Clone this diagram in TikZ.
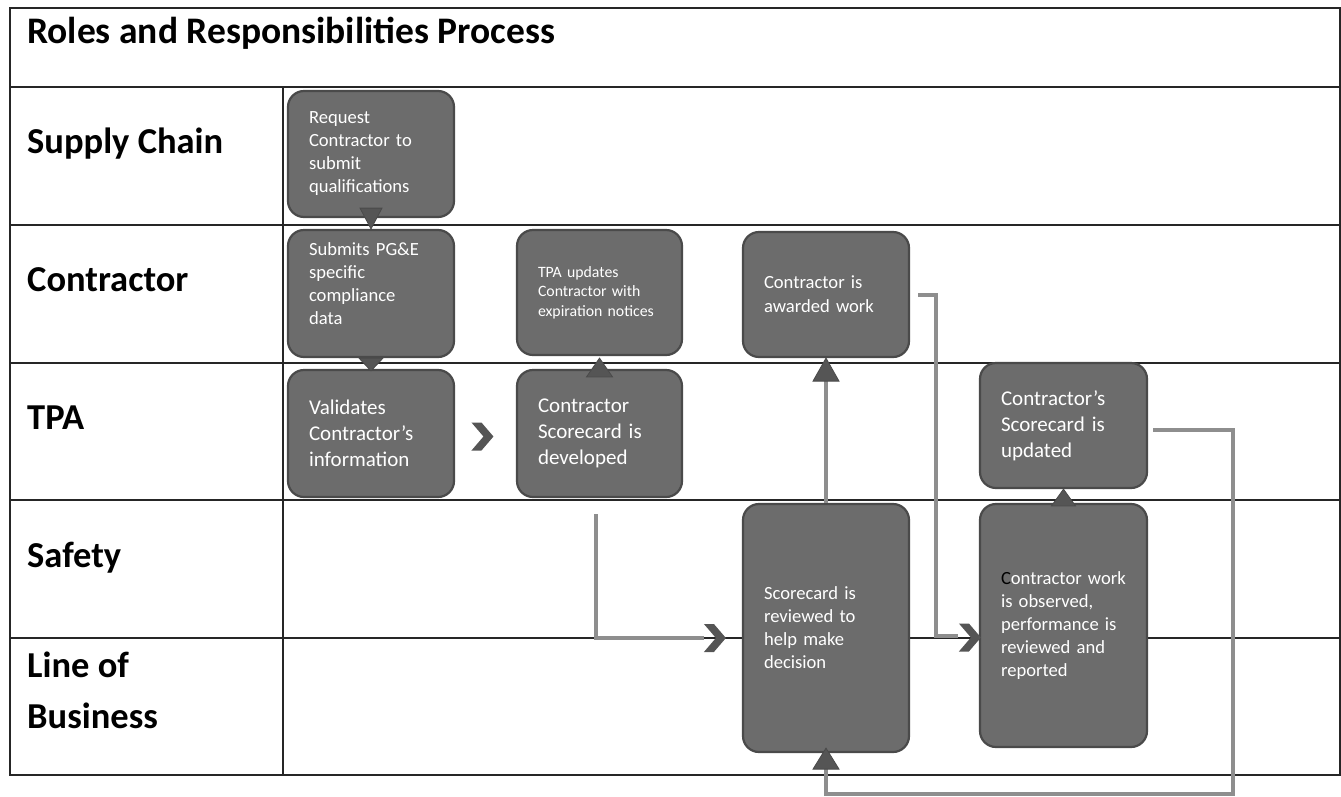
\documentclass[tikz,border=0pt]{standalone}
\usepackage{fontspec}
\setmainfont{Carlito}
\usetikzlibrary{calc}
\definecolor{boxfill}{HTML}{6C6C6C}
\definecolor{boxedge}{HTML}{4A4A4A}
\definecolor{conn}{HTML}{8E8E8E}
\definecolor{chevfill}{HTML}{555555}
\definecolor{grid}{HTML}{262626}
\tikzset{
  gridline/.style={draw=grid, line width=1.8pt},
  procbox/.style={draw=boxedge, line width=2.2pt, fill=boxfill, rounded corners=16pt,
    text=white, align=left, inner sep=0pt},
  fsmall/.style={font=\fontsize{15.8}{19.5}\selectfont},
  fmid/.style={font=\fontsize{18.6}{23}\selectfont},
  fbig/.style={font=\fontsize{21}{26}\selectfont},
  lanelab/.style={anchor=base west, font=\fontsize{36.5}{44}\selectfont\bfseries, inner sep=0pt},
  tri/.style={fill=chevfill, draw=boxedge, line width=0.8pt},
  conn/.style={draw=conn, line width=4pt},
  chevron/.pic={\fill[chevfill] (-11,-14) -- (-1,-14) -- (11,0) -- (-1,14) -- (-11,14) -- (1,0) -- cycle;}
}
\begin{document}
\begin{tikzpicture}[x=1pt,y=-1pt]
\useasboundingbox (0,0) rectangle (1341,796);
% table
\draw[gridline] (10,8) rectangle (1340,775);
\foreach \yy in {87,225,363,500,638} \draw[gridline] (10,\yy) -- (1340,\yy);
\draw[gridline] (283,87) -- (283,775);
% labels
\node[lanelab, font=\fontsize{37.5}{44}\selectfont\bfseries] (title) at (27,43) {Roles and Responsibilities Process};
\node[lanelab] (lsc) at (27,153) {Supply Chain};
\node[lanelab] (lco) at (27,291) {Contractor};
\node[lanelab] (ltp) at (27,429) {TPA};
\node[lanelab] (lsa) at (27,567) {Safety};
\node[lanelab] (llb1) at (27,677) {Line of};
\node[lanelab] (llb2) at (27,728) {Business};
% boxes
\node[procbox, fmid, minimum width=166pt, minimum height=126pt, text width=124pt] (req) at (371,154)
  {Request\\Contractor~to\\submit\\qualifications};
\node[procbox, fmid, minimum width=166pt, minimum height=127pt, text width=124pt] (sub) at (371,293.5)
  {Submits~PG\&E\\specific\\compliance\\data\vspace{20pt}};
\node[procbox, fbig, minimum width=166pt, minimum height=127pt, text width=124pt] (val) at (371,433.5)
  {Validates\\Contractor’s\\information};
\node[procbox, fsmall, minimum width=165pt, minimum height=125pt, text width=123pt] (upd) at (599.5,292.5)
  {TPA~updates\\Contractor~with\\expiration~notices};
\node[procbox, fbig, minimum width=165pt, minimum height=127pt, text width=123pt] (dev) at (599.5,433.5)
  {Contractor\\Scorecard~is\\developed};
\node[procbox, fmid, minimum width=166pt, minimum height=125pt, text width=124pt, font=\fontsize{18.6}{24}\selectfont] (awd) at (826,294.5)
  {Contractor~is\\awarded~work};
\node[procbox, fmid, minimum width=166pt, minimum height=248pt, text width=124pt] (rev) at (826,628)
  {Scorecard~is\\reviewed~to\\help~make\\decision};
\node[procbox, fbig, minimum width=167pt, minimum height=125pt, text width=125pt] (scu) at (1063.5,425.5)
  {Contractor’s\\Scorecard~is\\updated};
\node[procbox, fmid, minimum width=167pt, minimum height=243pt, text width=125pt] (obs) at (1063.5,625.5)
  {{\color{black}C}ontractor~work\\is~observed,\\performance~is\\reviewed~and\\reported};
% triangle pointers
\filldraw[tri] ($(req.south)+(-11,-10)$) -- ($(req.south)+(11,-10)$) -- (sub.north) -- cycle;
\filldraw[tri] ($(sub.south)+(-12,0)$) -- ($(sub.south)+(12,0)$) -- ($(val.north)+(0,2)$) -- cycle;
\filldraw[tri] ($(dev.north)+(-13,8)$) -- ($(dev.north)+(13,8)$) -- ($(upd.south)+(0,2)$) -- cycle;
\filldraw[tri] ($(obs.north)+(-12,3)$) -- ($(obs.north)+(12,3)$) -- (scu.south) -- cycle;
% connectors
\coordinate (c1s) at ($(dev.south)+(-4,16)$);
\coordinate (c1e) at ($(rev.west)+(-38,10)$);
\draw[conn] (c1s) |- (c1e);
\pic at ($(rev.west)+(-27,10)$) {chevron};
\draw[conn] (rev.north) -- ($(awd.south)+(0,22)$);
\filldraw[tri] ($(awd.south)+(-13,23)$) -- ($(awd.south)+(13,23)$) -- (awd.south) -- cycle;
\coordinate (c3s) at ($(awd.east)+(8,0)$);
\coordinate (c3e) at ($(obs.west)+(-21,10)$);
\draw[conn] (c3s) -| ($(c3e)+(-22,0)$) -- (c3e);
\pic at ($(obs.west)+(-9,12)$) {chevron};
\coordinate (c4s) at ($(scu.east)+(5,4)$);
\draw[conn] (c4s) -- ++(80,0) |- ($(rev.south)+(0,41)$) -- ($(rev.south)+(0,16)$);
\filldraw[tri] ($(rev.south)+(-13,16)$) -- ($(rev.south)+(13,16)$) -- ($(rev.south)+(0,-5)$) -- cycle;
\pic at ($(val.east)!0.45!(dev.west)+(0,3)$) {chevron};
\end{tikzpicture}
\end{document}
